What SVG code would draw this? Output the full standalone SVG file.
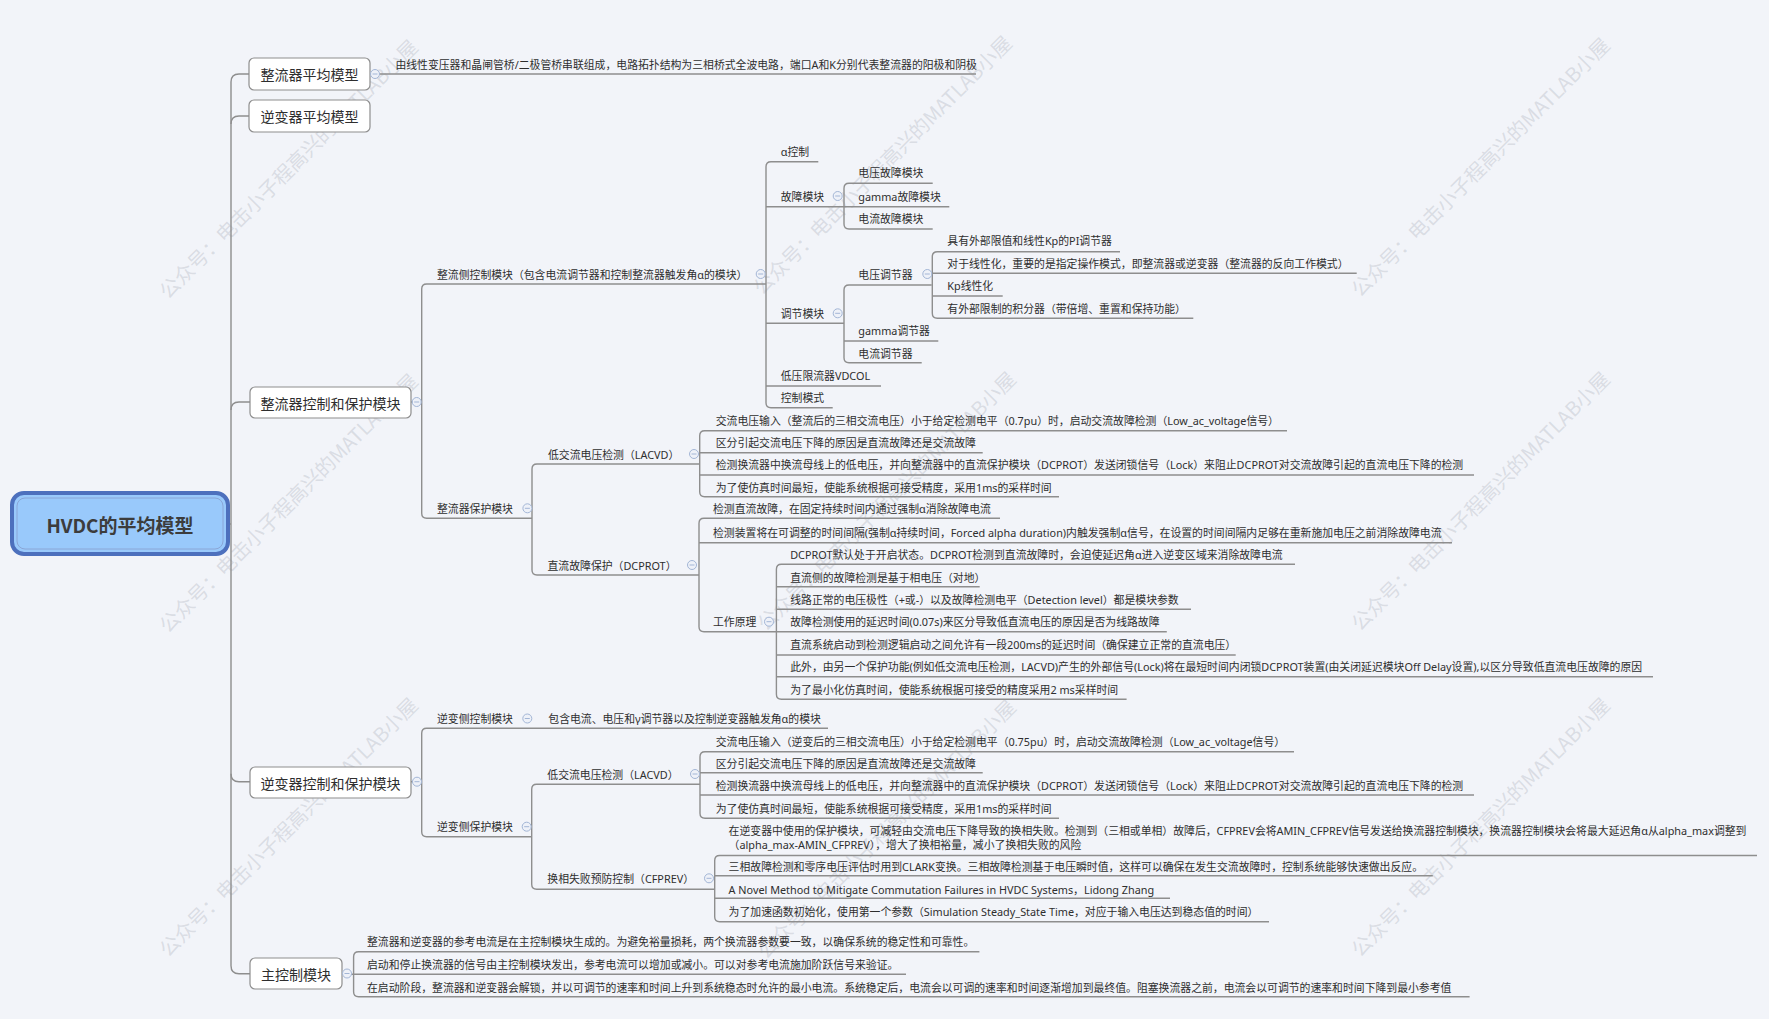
<svg xmlns="http://www.w3.org/2000/svg" width="1769" height="1019" viewBox="0 0 1769 1019">
<style>
text{font-family:"Noto Sans CJK SC","Noto Sans",sans-serif;fill:#2e2e2e}
.t{font-family:"Noto Sans","Noto Sans CJK SC",sans-serif;font-size:10.85px;dominant-baseline:central}
.b{font-size:14px;dominant-baseline:central;text-anchor:middle}
.root{font-size:19px;font-weight:bold;dominant-baseline:central;text-anchor:middle;fill:#3c3c3c}
.ln{fill:none;stroke:#8e8e8e;stroke-width:1.4}
.bx{fill:#ffffff;stroke:#8e8e8e;stroke-width:1.2}
.c{fill:#eef1f8;stroke:#a3b6d6;stroke-width:1}
.m{stroke:#a3b6d6;stroke-width:1}
.wm{font-size:20px;fill:#b4b8c2;fill-opacity:0.4}
</style>
<defs>
<g id="col"><circle class="c" r="4.5"/><line class="m" x1="-2.5" y1="0" x2="2.5" y2="0"/></g>
</defs>
<rect x="0" y="0" width="1769" height="1019" fill="#f2f4f9"/>

<g id="watermarks">
<text class="wm" transform="translate(168,300) rotate(-45)">公众号：电击小子程高兴的MATLAB小屋</text>
<text class="wm" transform="translate(762,296) rotate(-45)">公众号：电击小子程高兴的MATLAB小屋</text>
<text class="wm" transform="translate(1360,298) rotate(-45)">公众号：电击小子程高兴的MATLAB小屋</text>
<text class="wm" transform="translate(168,634) rotate(-45)">公众号：电击小子程高兴的MATLAB小屋</text>
<text class="wm" transform="translate(766,632) rotate(-45)">公众号：电击小子程高兴的MATLAB小屋</text>
<text class="wm" transform="translate(1360,632) rotate(-45)">公众号：电击小子程高兴的MATLAB小屋</text>
<text class="wm" transform="translate(168,958) rotate(-45)">公众号：电击小子程高兴的MATLAB小屋</text>
<text class="wm" transform="translate(766,960) rotate(-45)">公众号：电击小子程高兴的MATLAB小屋</text>
<text class="wm" transform="translate(1360,958) rotate(-45)">公众号：电击小子程高兴的MATLAB小屋</text>
</g>

<g id="connectors">
<path class="ln" d="M 228 524 H 231"/>
<path class="ln" d="M 250 74 H 239 Q 231 74 231 82 V 965.7 Q 231 973.7 239 973.7 H 250"/>
<path class="ln" d="M 231 124 Q 231 116 239 116 H 250"/>
<path class="ln" d="M 231 410 Q 231 402 239 402 H 250"/>
<path class="ln" d="M 231 773.7 Q 231 781.7 239 781.7 H 250"/>
<path class="ln" d="M 370 74 H 976"/>
<path class="ln" d="M 411 402 H 421.7"/>
<path class="ln" d="M 766 284 H 426.7 Q 421.7 284 421.7 289 V 513.3 Q 421.7 518.3 426.7 518.3 H 532"/>
<path class="ln" d="M 818.3 161.7 H 771 Q 766 161.7 766 166.7 V 402.7 Q 766 407.7 771 407.7 H 832.7"/>
<path class="ln" d="M 766 206.7 H 949.3"/>
<path class="ln" d="M 766 323.3 H 844"/>
<path class="ln" d="M 766 386 H 881"/>
<path class="ln" d="M 932.7 183.3 H 849 Q 844 183.3 844 188.3 V 224 Q 844 229 849 229 H 932.7"/>
<path class="ln" d="M 931.7 285 H 849 Q 844 285 844 290 V 357.7 Q 844 362.7 849 362.7 H 921.7"/>
<path class="ln" d="M 844 341 H 938.3"/>
<path class="ln" d="M 1120 251.7 H 937.3 Q 932.3 251.7 932.3 256.7 V 313.3 Q 932.3 318.3 937.3 318.3 H 1193.3"/>
<path class="ln" d="M 932.3 273.3 H 1356.7"/>
<path class="ln" d="M 932.3 296 H 1002.7"/>
<path class="ln" d="M 699.7 464 H 537 Q 532 464 532 469 V 570 Q 532 575 537 575 H 699"/>
<path class="ln" d="M 1287 430.7 H 704.7 Q 699.7 430.7 699.7 435.7 V 491.7 Q 699.7 496.7 704.7 496.7 H 1059"/>
<path class="ln" d="M 699.7 452.7 H 982.7"/>
<path class="ln" d="M 699.7 475 H 1474"/>
<path class="ln" d="M 1000 518.3 H 704 Q 699 518.3 699 523.3 V 626.7 Q 699 631.7 704 631.7 H 776.4"/>
<path class="ln" d="M 699 542.7 H 1452"/>
<path class="ln" d="M 1295 564.3 H 781.4 Q 776.4 564.3 776.4 569.3 V 694.3 Q 776.4 699.3 781.4 699.3 H 1126.6"/>
<path class="ln" d="M 776.4 586.7 H 979.7"/>
<path class="ln" d="M 776.4 609.3 H 1191"/>
<path class="ln" d="M 776.4 631.7 H 1166.8"/>
<path class="ln" d="M 776.4 655 H 1235.7"/>
<path class="ln" d="M 776.4 676.7 H 1653"/>
<path class="ln" d="M 411 781.7 H 421.7"/>
<path class="ln" d="M 828 728.3 H 426.7 Q 421.7 728.3 421.7 733.3 V 831.7 Q 421.7 836.7 426.7 836.7 H 531.7"/>
<path class="ln" d="M 700 784.3 H 536.7 Q 531.7 784.3 531.7 789.3 V 884.3 Q 531.7 889.3 536.7 889.3 H 714.7"/>
<path class="ln" d="M 1294 751.7 H 705 Q 700 751.7 700 756.7 V 813.3 Q 700 818.3 705 818.3 H 1059"/>
<path class="ln" d="M 700 772.7 H 982.7"/>
<path class="ln" d="M 700 795 H 1474"/>
<path class="ln" d="M 1757 855.5 H 719.7 Q 714.7 855.5 714.7 860.5 V 916.7 Q 714.7 921.7 719.7 921.7 H 1269"/>
<path class="ln" d="M 714.7 875.7 H 1432.8"/>
<path class="ln" d="M 714.7 898.3 H 1170"/>
<path class="ln" d="M 979.4 951.7 H 358.6 Q 353.6 951.7 353.6 956.7 V 991.7 Q 353.6 996.7 358.6 996.7 H 1469.6"/>
<path class="ln" d="M 342 974.3 H 906"/>
</g>

<g id="root">
<rect x="12" y="493" width="216" height="61" rx="12" fill="#99c9fb" stroke="#4d70bd" stroke-width="4"/>
<rect x="17" y="498" width="206" height="51" rx="8" fill="none" stroke="#8aa6d6" stroke-width="1"/>
<text class="root" x="120" y="524">HVDC的平均模型</text>
</g>

<g id="n-rect-avg">
<rect class="bx" x="249" y="58" width="121" height="32" rx="5"/>
<text class="b" x="309.5" y="74">整流器平均模型</text>
<use href="#col" x="375" y="74"/>
<text class="t" x="395.4" y="64">由线性变压器和晶闸管桥/二极管桥串联组成，电路拓扑结构为三相桥式全波电路，端口A和K分别代表整流器的阳极和阴极</text>
</g>

<g id="n-inv-avg">
<rect class="bx" x="249" y="100" width="121" height="32" rx="5"/>
<text class="b" x="309.5" y="116">逆变器平均模型</text>
</g>

<g id="n-rect-cp">
<rect class="bx" x="250" y="387" width="161" height="31" rx="5"/>
<text class="b" x="330.5" y="402.5">整流器控制和保护模块</text>
<use href="#col" x="416.7" y="402"/>
</g>

<g id="n-rect-ctrl">
<text class="t" x="437" y="274">整流侧控制模块（包含电流调节器和控制整流器触发角α的模块）</text>
<use href="#col" x="760.7" y="274"/>
<text class="t" x="780.7" y="151.7">α控制</text>
<text class="t" x="780.7" y="196">故障模块</text>
<use href="#col" x="837.7" y="196"/>
<text class="t" x="858.3" y="172.7">电压故障模块</text>
<text class="t" x="858.3" y="196">gamma故障模块</text>
<text class="t" x="858.3" y="218.3">电流故障模块</text>
<text class="t" x="780.7" y="313.3">调节模块</text>
<use href="#col" x="837.7" y="313.3"/>
<text class="t" x="858.3" y="274">电压调节器</text>
<use href="#col" x="927.3" y="274"/>
<text class="t" x="947.3" y="240.7">具有外部限值和线性Kp的PI调节器</text>
<text class="t" x="947.3" y="263.3">对于线性化，重要的是指定操作模式，即整流器或逆变器（整流器的反向工作模式）</text>
<text class="t" x="947.3" y="285.5">Kp线性化</text>
<text class="t" x="947.3" y="308.3">有外部限制的积分器（带倍增、重置和保持功能）</text>
<text class="t" x="858.3" y="330.7">gamma调节器</text>
<text class="t" x="858.3" y="353.3">电流调节器</text>
<text class="t" x="780.7" y="375.3">低压限流器VDCOL</text>
<text class="t" x="780.7" y="397">控制模式</text>
</g>

<g id="n-rect-prot">
<text class="t" x="437" y="508.3">整流器保护模块</text>
<use href="#col" x="527.4" y="508.3"/>
<text class="t" x="548" y="454">低交流电压检测（LACVD）</text>
<use href="#col" x="694" y="454"/>
<text class="t" x="715.7" y="420">交流电压输入（整流后的三相交流电压）小于给定检测电平（0.7pu）时，启动交流故障检测（Low_ac_voltage信号）</text>
<text class="t" x="715.7" y="442.7">区分引起交流电压下降的原因是直流故障还是交流故障</text>
<text class="t" x="715.7" y="464.5">检测换流器中换流母线上的低电压，并向整流器中的直流保护模块（DCPROT）发送闭锁信号（Lock）来阻止DCPROT对交流故障引起的直流电压下降的检测</text>
<text class="t" x="715.7" y="487">为了使仿真时间最短，使能系统根据可接受精度，采用1ms的采样时间</text>
<text class="t" x="547.5" y="565">直流故障保护（DCPROT）</text>
<use href="#col" x="692" y="565"/>
<text class="t" x="713" y="508.3">检测直流故障，在固定持续时间内通过强制α消除故障电流</text>
<text class="t" x="713" y="532.7">检测装置将在可调整的时间间隔(强制α持续时间，Forced alpha duration)内触发强制α信号，在设置的时间间隔内足够在重新施加电压之前消除故障电流</text>
<text class="t" x="713" y="621.7">工作原理</text>
<use href="#col" x="769" y="621.7"/>
<text class="t" x="790.2" y="554.3">DCPROT默认处于开启状态。DCPROT检测到直流故障时，会迫使延迟角α进入逆变区域来消除故障电流</text>
<text class="t" x="790.2" y="577">直流侧的故障检测是基于相电压（对地）</text>
<text class="t" x="790.2" y="599.3">线路正常的电压极性（+或-）以及故障检测电平（Detection level）都是模块参数</text>
<text class="t" x="790.2" y="621.7">故障检测使用的延迟时间(0.07s)来区分导致低直流电压的原因是否为线路故障</text>
<text class="t" x="790.2" y="644.5">直流系统启动到检测逻辑启动之间允许有一段200ms的延迟时间（确保建立正常的直流电压）</text>
<text class="t" x="790.2" y="666.7">此外，由另一个保护功能(例如低交流电压检测，LACVD)产生的外部信号(Lock)将在最短时间内闭锁DCPROT装置(由关闭延迟模块Off Delay设置),以区分导致低直流电压故障的原因</text>
<text class="t" x="790.2" y="689.3">为了最小化仿真时间，使能系统根据可接受的精度采用2 ms采样时间</text>
</g>

<g id="n-inv-cp">
<rect class="bx" x="250" y="767" width="161" height="31" rx="5"/>
<text class="b" x="330.5" y="782.5">逆变器控制和保护模块</text>
<use href="#col" x="417" y="781.7"/>
</g>

<g id="n-inv-ctrl">
<text class="t" x="437" y="718.5">逆变侧控制模块</text>
<use href="#col" x="527.3" y="718.5"/>
<text class="t" x="548.3" y="718.5">包含电流、电压和γ调节器以及控制逆变器触发角α的模块</text>
</g>

<g id="n-inv-prot">
<text class="t" x="437" y="826.7">逆变侧保护模块</text>
<use href="#col" x="526.7" y="826.7"/>
<text class="t" x="547.3" y="774">低交流电压检测（LACVD）</text>
<use href="#col" x="695" y="774"/>
<text class="t" x="715.7" y="741.7">交流电压输入（逆变后的三相交流电压）小于给定检测电平（0.75pu）时，启动交流故障检测（Low_ac_voltage信号）</text>
<text class="t" x="715.7" y="763">区分引起交流电压下降的原因是直流故障还是交流故障</text>
<text class="t" x="715.7" y="785">检测换流器中换流母线上的低电压，并向整流器中的直流保护模块（DCPROT）发送闭锁信号（Lock）来阻止DCPROT对交流故障引起的直流电压下降的检测</text>
<text class="t" x="715.7" y="808.3">为了使仿真时间最短，使能系统根据可接受精度，采用1ms的采样时间</text>
<text class="t" x="547.3" y="878.5">换相失败预防控制（CFPREV）</text>
<use href="#col" x="709" y="878.3"/>
<text class="t" x="728.6" y="830.7">在逆变器中使用的保护模块，可减轻由交流电压下降导致的换相失败。检测到（三相或单相）故障后，CFPREV会将AMIN_CFPREV信号发送给换流器控制模块，换流器控制模块会将最大延迟角α从alpha_max调整到</text>
<text class="t" x="728.6" y="844.3">（alpha_max-AMIN_CFPREV），增大了换相裕量，减小了换相失败的风险</text>
<text class="t" x="728.6" y="866.5">三相故障检测和零序电压评估时用到CLARK变换。三相故障检测基于电压瞬时值，这样可以确保在发生交流故障时，控制系统能够快速做出反应。</text>
<text class="t" x="728.6" y="889">A Novel Method to Mitigate Commutation Failures in HVDC Systems，Lidong Zhang</text>
<text class="t" x="728.6" y="911.5">为了加速函数初始化，使用第一个参数（Simulation Steady_State Time，对应于输入电压达到稳态值的时间）</text>
</g>

<g id="n-main">
<rect class="bx" x="250" y="958" width="92" height="31" rx="5"/>
<text class="b" x="296" y="974">主控制模块</text>
<use href="#col" x="347" y="973.5"/>
<text class="t" x="367" y="941.7">整流器和逆变器的参考电流是在主控制模块生成的。为避免裕量损耗，两个换流器参数要一致，以确保系统的稳定性和可靠性。</text>
<text class="t" x="367" y="964.5">启动和停止换流器的信号由主控制模块发出，参考电流可以增加或减小。可以对参考电流施加阶跃信号来验证。</text>
<text class="t" x="367" y="987.5">在启动阶段，整流器和逆变器会解锁，并以可调节的速率和时间上升到系统稳态时允许的最小电流。系统稳定后，电流会以可调的速率和时间逐渐增加到最终值。阻塞换流器之前，电流会以可调节的速率和时间下降到最小参考值</text>
</g>
</svg>
